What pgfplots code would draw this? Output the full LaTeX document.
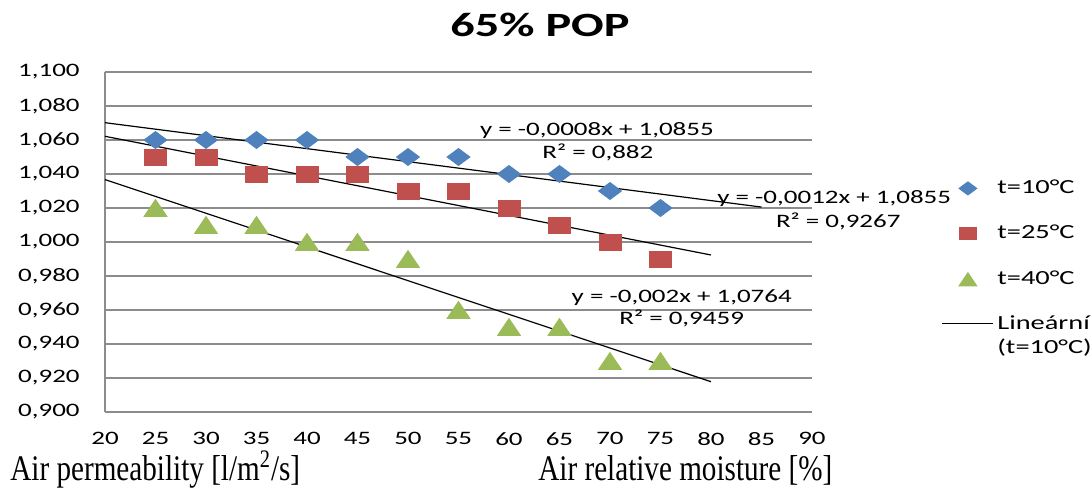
\documentclass[border=0pt]{standalone}
\usepackage{fontspec}
\setmainfont{Carlito}[FakeStretch=1.42]
\newfontfamily\timesfont{Liberation Serif}[FakeStretch=0.81]
\usepackage{pgfplots}
\pgfplotsset{compat=1.18}
\definecolor{cten}{HTML}{4F81BD}
\definecolor{ctwf}{HTML}{C0504D}
\definecolor{cfty}{HTML}{9BBB59}
\definecolor{cgrid}{HTML}{8C8C8C}

\begin{document}
\begin{tikzpicture}
\path[use as bounding box] (-52.5bp,-39bp) rectangle (493.5bp,206bp);
\begin{axis}[
  at={(0,0)}, anchor=south west,
  scale only axis, width=353.5bp, height=170bp,
  xmin=20, xmax=90, ymin=0.9, ymax=1.1,
  xtick={20,25,...,90},
  ytick={0.90,0.92,0.94,0.96,0.98,1.00,1.02,1.04,1.06,1.08,1.10},
  axis x line=bottom, axis y line=left,
  axis line style={draw=cgrid, line width=0.6bp, -},
  ymajorgrids, grid style={draw=cgrid, line width=0.6bp},
  major tick length=0pt,
  tick label style={font=\fontsize{9.5bp}{11bp}\selectfont},
  /pgf/number format/assume math mode=true,
  yticklabel style={/pgf/number format/fixed, /pgf/number format/fixed zerofill,
    /pgf/number format/precision=3, /pgf/number format/use comma,
    anchor=east, inner sep=0pt, xshift=-12.5bp},
  xticklabel style={/pgf/number format/fixed, /pgf/number format/precision=0,
    anchor=north, inner sep=0pt, yshift=-10bp},
  clip=false,
  legend image code/.code={\draw[mark repeat=2,mark phase=2,/tikz/every mark/.append style={scale=0.78}]
    plot coordinates {(0bp,0bp)(12.75bp,0bp)(25.5bp,0bp)};},
  legend style={at={(1.1839,0.695)}, anchor=north west, draw=none, fill=none,
    inner sep=0pt, font=\fontsize{10bp}{12bp}\selectfont, row sep=10.25bp,
    cells={anchor=west, align=left},
    /tikz/every even column/.append style={column sep=3bp}},
]
% t = 10 C
\addplot[only marks, mark=diamond*, mark size=4.25bp, draw=cten, fill=cten,
  mark options={xscale=1.8}] coordinates {
(25,1.060) (30,1.060) (35,1.060) (40,1.060) (45,1.050) (50,1.050)
(55,1.050) (60,1.040) (65,1.040) (70,1.030) (75,1.020)};
\addlegendentry{t=10°C}
% t = 25 C
\addplot[only marks, mark=square*, mark size=4bp, draw=ctwf, fill=ctwf,
  mark options={xscale=1.375}] coordinates {
(25,1.050) (30,1.050) (35,1.040) (40,1.040) (45,1.040) (50,1.030)
(55,1.030) (60,1.020) (65,1.010) (70,1.000) (75,0.990)};
\addlegendentry{t=25°C}
% t = 40 C
\addplot[only marks, mark=triangle*, mark size=5.67bp, draw=cfty, fill=cfty,
  mark options={yshift=-1.42bp, xscale=1.17}] coordinates {
(25,1.020) (30,1.010) (35,1.010) (40,1.000) (45,1.000) (50,0.990)
(55,0.960) (60,0.950) (65,0.950) (70,0.930) (75,0.930)};
\addlegendentry{t=40°C}
% linear trendlines
\addplot[black, line width=0.6bp, mark=none,
  legend image code/.code={\path[draw=none] (0bp,0bp) -- (25.5bp,0bp);
    \draw[overlay] (0bp,6bp) -- (25.5bp,6bp);}]
  coordinates {(20,1.070182) (85,1.020546)};
\addlegendentry{Lineární\\(t=10°C)}
\addplot[black, line width=0.6bp, mark=none, forget plot] coordinates {(20,1.062182) (80,0.992364)};
\addplot[black, line width=0.6bp, mark=none, forget plot] coordinates {(20,1.036727) (80,0.917818)};
% equations
\begin{scope}[every node/.style={font=\fontsize{9.5bp}{11bp}\selectfont, anchor=base, inner sep=0pt}]
\node at (axis cs:68.7,1.06294) {y = -0,0008x + 1,0855};
\node at (axis cs:68.8,1.04941) {R² = 0,882};
\node at (axis cs:92.2,1.02294) {y = -0,0012x + 1,0855};
\node at (axis cs:92.6,1.00882) {R² = 0,9267};
\node at (axis cs:77.1,0.96412) {y = -0,002x + 1,0764};
\node at (axis cs:77.1,0.95118) {R² = 0,9459};
\end{scope}
\end{axis}
\node[anchor=base, font=\fontsize{17bp}{20bp}\selectfont\bfseries, inner sep=0pt] at (217.5bp,187.5bp) {65\% POP};
\node[anchor=base west, inner sep=0pt, font=\timesfont\fontsize{18bp}{20bp}\selectfont] at (-47.5bp,-34bp) {Air permeability [l/m\textsuperscript{2}/s]};
\node[anchor=base west, inner sep=0pt, font=\timesfont\fontsize{18bp}{20bp}\selectfont] at (216.5bp,-34bp) {Air relative moisture [\%]};
\end{tikzpicture}
\end{document}
